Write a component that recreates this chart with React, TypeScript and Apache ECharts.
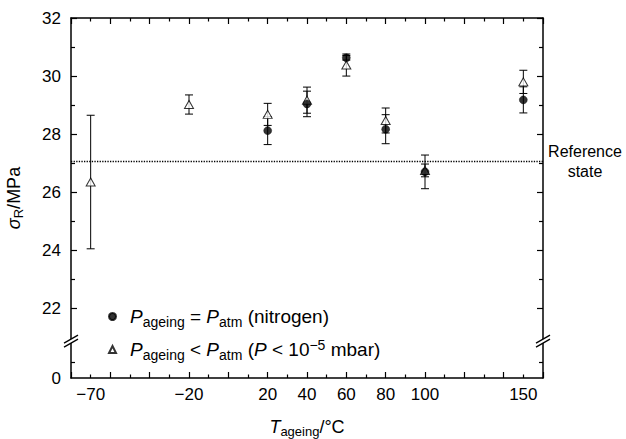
import React, { useEffect, useRef } from 'react';
import * as echarts from 'echarts';

const FONT = '"Liberation Sans", Arial, Helvetica, sans-serif';

// Ageing in nitrogen (P_ageing = P_atm)
const nitrogenT = [20, 40, 60, 80, 100, 150];
const nitrogenMean = [28.12, 29.04, 30.63, 28.17, 26.7, 29.18];
const nitrogenErr = [0.48, 0.44, 0.08, 0.5, 0.58, 0.45];

// Ageing under vacuum (P_ageing < P_atm)
const vacuumT = [-70, -20, 20, 40, 60, 80, 100, 150];
const vacuumMean = [26.35, 29.02, 28.68, 29.17, 30.38, 28.47, 26.75, 29.8];
const vacuumErr = [2.3, 0.33, 0.38, 0.45, 0.38, 0.43, 0.22, 0.4];

const referenceState = 27.05;

const xTickLabels = [-70, -20, 20, 40, 60, 80, 100, 150];
const yZero = 19.6; // plotted position of the "0" tick (below the axis break)
const yBreak = 20.87; // where the axis break marks sit
const yMajorTicks = [22, 24, 26, 28, 30, 32];
const yMinorTicks = [20.15, 23, 25, 27, 29, 31];
const yLabelValues = [yZero, ...yMajorTicks];

const fmtX = (v: number) => (v < 0 ? '\u2212' + Math.abs(v) : String(v));
const fmtY = (v: number) => (v < 21 ? '0' : String(Math.round(v)));

export default function App() {
  const ref = useRef<HTMLDivElement>(null);
  useEffect(() => {
    document.body.style.margin = '0';
    const chart = echarts.init(ref.current!, null, { renderer: 'svg' });
    const black = '#000';
    const tickLine = { color: black, width: 1.2 };
    const axisLine = { show: true, onZero: false, lineStyle: { color: black, width: 1.5 } };
    const labelStyle = { fontSize: 17, color: black, fontFamily: FONT };
    const rich = {
      i: { fontStyle: 'italic', fontSize: 18, fontFamily: FONT, color: black },
      sub: { fontSize: 13, fontFamily: FONT, color: black, padding: [9, 0, 0, 0] },
      sup: { fontSize: 13, fontFamily: FONT, color: black, padding: [0, 0, 9, 0] },
    };
    const legendRich = {
      i: { fontStyle: 'italic', fontSize: 19, fontFamily: FONT, color: black },
      sub: { fontSize: 14, fontFamily: FONT, color: black, padding: [10, 0, 0, 0] },
      sup: { fontSize: 14, fontFamily: FONT, color: black, padding: [0, 0, 10, 0] },
      g: { width: 9 },
    };

    const xBase = (pos: string) => ({
      type: 'value',
      position: pos,
      min: -80,
      max: 160,
      interval: 20,
      axisLine,
      splitLine: { show: false },
      axisTick: { show: true, inside: true, length: 6, lineStyle: tickLine },
      minorTick: { show: true, splitNumber: 2, length: 3.5, lineStyle: tickLine },
      minorSplitLine: { show: false },
    });
    const yBase = (pos: string) => ({
      type: 'value',
      position: pos,
      min: yZero,
      max: 32,
      splitLine: { show: false },
      axisLabel: { show: false },
    });

    const errBar = (d: number[][]) => ({
      type: 'custom',
      clip: false,
      z: 2,
      data: d,
      renderItem: (_p: any, api: any) => {
        const x = api.value(0);
        const hi = api.coord([x, api.value(2)]);
        const lo = api.coord([x, api.value(1)]);
        const hw = 4;
        const st = { stroke: black, lineWidth: 1 };
        return {
          type: 'group',
          children: [
            { type: 'line', shape: { x1: hi[0], y1: hi[1], x2: lo[0], y2: lo[1] }, style: st },
            { type: 'line', shape: { x1: hi[0] - hw, y1: hi[1], x2: hi[0] + hw, y2: hi[1] }, style: st },
            { type: 'line', shape: { x1: lo[0] - hw, y1: lo[1], x2: lo[0] + hw, y2: lo[1] }, style: st },
          ],
        };
      },
    });

    chart.setOption({
      animation: false,
      grid: { left: 71, right: 83, top: 18, bottom: 61, outerBoundsMode: 'none' },
      xAxis: [
        {
          ...xBase('bottom'),
          axisLabel: { ...labelStyle, customValues: xTickLabels, formatter: fmtX, margin: 8 },
          name: '{i|T}{sub|ageing}/°C',
          nameLocation: 'middle',
          nameGap: 38,
          nameTextStyle: { ...labelStyle, fontSize: 18, rich },
        },
        { ...xBase('top'), axisLabel: { show: false } },
      ],
      yAxis: [
        {
          ...yBase('left'),
          axisLine,
          axisTick: { show: true, inside: true, length: 6, customValues: yMajorTicks, lineStyle: tickLine },
          axisLabel: { show: true, ...labelStyle, customValues: yLabelValues, formatter: fmtY, margin: 10 },
          name: '{i|σ}{sub|R}/MPa',
          nameLocation: 'middle',
          nameGap: 46,
          nameTextStyle: { ...labelStyle, fontSize: 18, rich },
        },
        {
          ...yBase('right'),
          axisLine,
          axisTick: { show: true, inside: true, length: 6, customValues: yMajorTicks, lineStyle: tickLine },
        },
        {
          ...yBase('left'),
          axisLine: { show: false, onZero: false },
          axisTick: { show: true, inside: true, length: 4, customValues: yMinorTicks, lineStyle: tickLine },
        },
        {
          ...yBase('right'),
          axisLine: { show: false, onZero: false },
          axisTick: { show: true, inside: true, length: 4, customValues: yMinorTicks, lineStyle: tickLine },
        },
      ],
      legend: {
        orient: 'vertical',
        left: 108,
        top: 307,
        padding: 0,
        itemWidth: 7,
        itemHeight: 7,
        itemGap: 9,
        data: ['nitrogen', 'vacuum'],
        formatter: (name: string) =>
          name === 'nitrogen'
            ? '{g| }{i|P}{sub|ageing} = {i|P}{sub|atm} (nitrogen)'
            : '{g| }{i|P}{sub|ageing} < {i|P}{sub|atm} ({i|P} < 10{sup|\u22125} mbar)',
        textStyle: { ...labelStyle, fontSize: 19, rich: legendRich },
      },
      series: [
        errBar(vacuumT.map((t, i) => [t, vacuumMean[i] - vacuumErr[i], vacuumMean[i] + vacuumErr[i]])),
        errBar(nitrogenT.map((t, i) => [t, nitrogenMean[i] - nitrogenErr[i], nitrogenMean[i] + nitrogenErr[i]])),
        {
          name: 'vacuum',
          type: 'scatter',
          z: 3,
          symbol: 'triangle',
          symbolSize: [9, 8],
          itemStyle: { color: '#fff', borderColor: black, borderWidth: 1 },
          data: vacuumT.map((t, i) => [t, vacuumMean[i]]),
        },
        {
          name: 'nitrogen',
          type: 'scatter',
          z: 4,
          symbol: 'circle',
          symbolSize: 8,
          itemStyle: { color: black, borderColor: black, borderWidth: 0.5 },
          data: nitrogenT.map((t, i) => [t, nitrogenMean[i]]),
          markLine: {
            silent: true,
            symbol: 'none',
            lineStyle: { color: black, type: 'dotted', width: 1.3 },
            label: {
              position: 'end',
              distance: 3,
              formatter: '{a|Reference}\n{a|state}',
              rich: { a: { width: 78, align: 'center', fontSize: 16, lineHeight: 20, fontFamily: FONT, color: black } },
            },
            data: [{ yAxis: referenceState }],
          },
        },
        {
          type: 'custom',
          clip: false,
          z: 10,
          silent: true,
          data: [[-80, yBreak], [160, yBreak]],
          renderItem: (_p: any, api: any) => {
            const c = api.coord([api.value(0), api.value(1)]);
            const cx = c[0], cy = c[1];
            const st = { stroke: black, lineWidth: 1.2 };
            return {
              type: 'group',
              children: [
                {
                  type: 'polygon',
                  shape: { points: [[cx - 7, cy + 2], [cx + 7, cy - 6], [cx + 7, cy - 2], [cx - 7, cy + 6]] },
                  style: { fill: '#fff' },
                },
                { type: 'line', shape: { x1: cx - 7, y1: cy + 2, x2: cx + 7, y2: cy - 6 }, style: st },
                { type: 'line', shape: { x1: cx - 7, y1: cy + 6, x2: cx + 7, y2: cy - 2 }, style: st },
              ],
            };
          },
        },
      ],
    });
    return () => chart.dispose();
  }, []);
  return <div ref={ref} style={{ width: 626, height: 439 }} />;
}
